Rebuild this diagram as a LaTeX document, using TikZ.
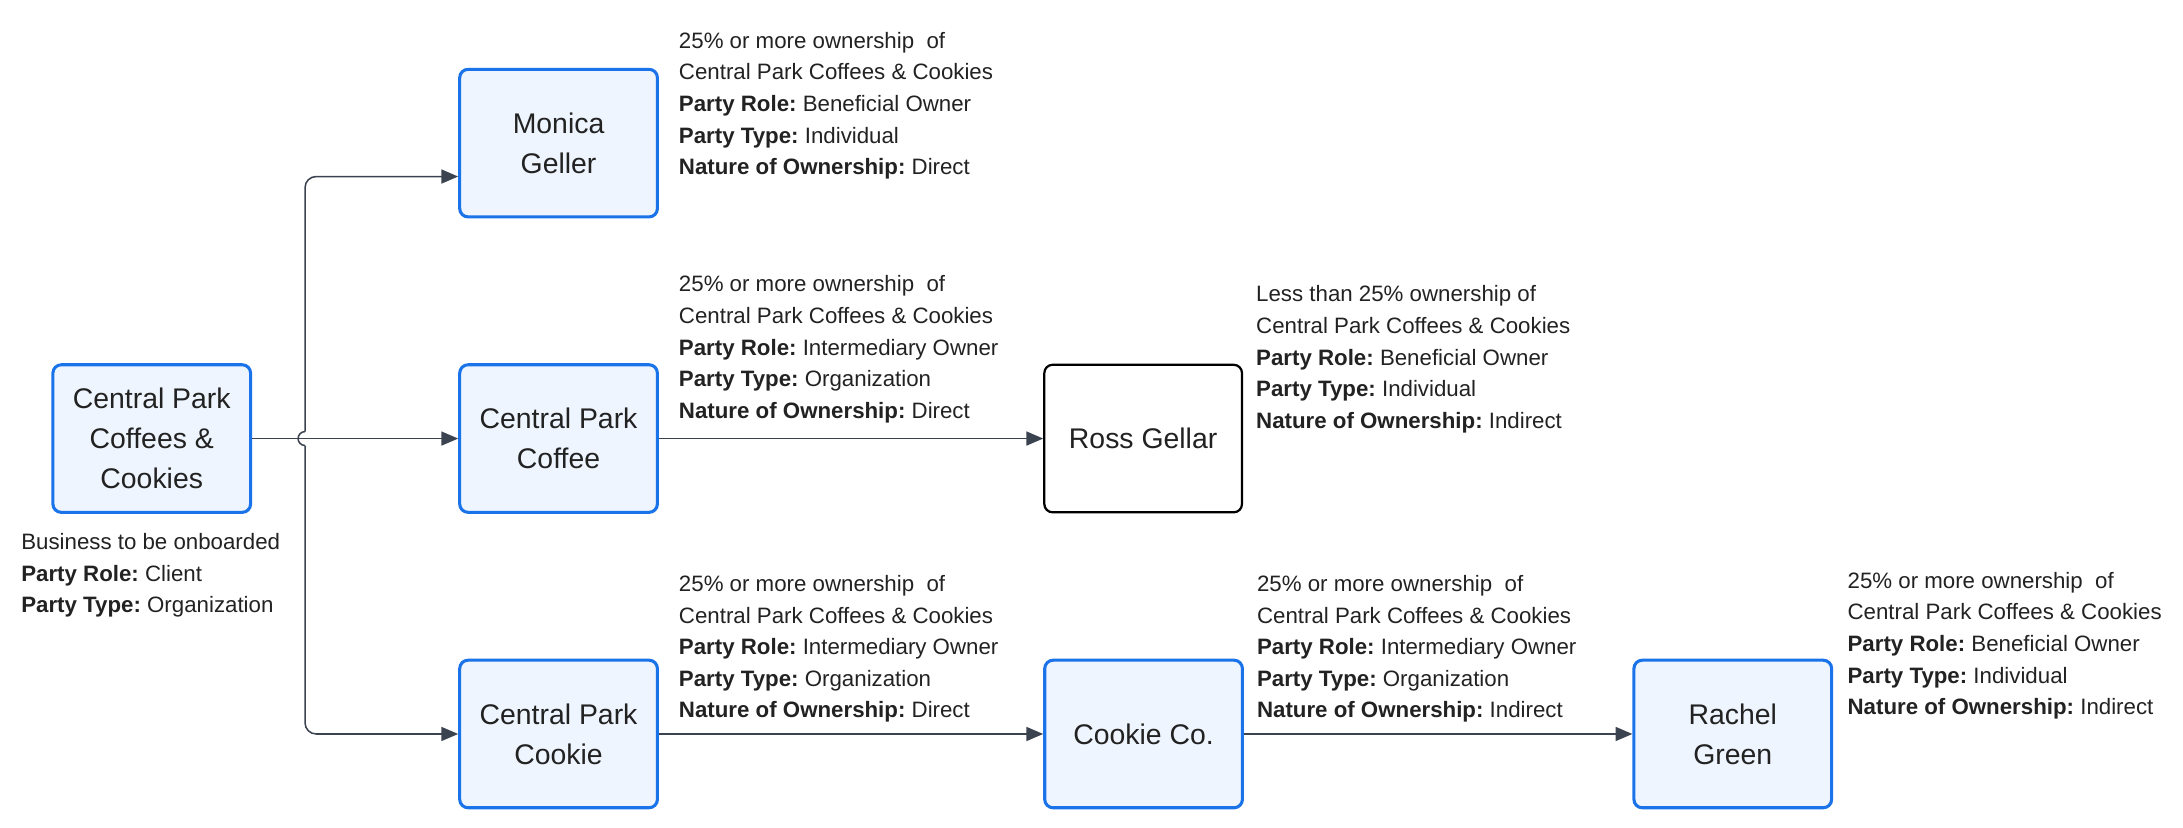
\documentclass[tikz,border=0pt]{standalone}
\usepackage{fontspec}
\setmainfont{Liberation Sans}
\frenchspacing
\usetikzlibrary{arrows.meta}
\usetikzlibrary{positioning}
\definecolor{partyblue}{HTML}{1A73E8}
\definecolor{partyfill}{HTML}{EEF5FE}
\definecolor{linkgray}{HTML}{3C4350}
\definecolor{inkdark}{HTML}{222222}

\begin{document}
\begin{tikzpicture}
    [party/.style={rectangle,rounded corners=3pt,draw=partyblue,fill=partyfill,line width=1.1pt,
      minimum width=71pt,minimum height=53pt,inner sep=2pt,align=center,
      text=inkdark,font=\fontsize{10.2pt}{14.3pt}\selectfont},
    outside/.style={party,draw=black,fill=white,line width=0.8pt},
    note/.style={anchor=north west,inner sep=0pt,align=left,text=inkdark,
      font=\fontsize{8pt}{11.35pt}\selectfont},
    link/.style={draw=linkgray,line width=0.55pt,-{Triangle[length=6pt,width=5pt]}},
    node distance=52pt and 74pt]

    \useasboundingbox (-54.5pt,-139.85pt) rectangle (729.5pt,157.5pt);

    \node[party]   (cpcc)     at (0,0)                    {Central Park\\Coffees \&\\Cookies};

    \node[party]   (coffee)   [right=of cpcc]             {Central Park\\Coffee};

    \node[party]   (monica)   [above=of coffee]           {Monica\\Geller};

    \node[party]   (cookie)   [below=of coffee]           {Central Park\\Cookie};

    \node[outside] (ross)     [right=138pt of coffee]     {Ross Gellar};

    \node[party]   (cookieco) [right=138pt of cookie]     {Cookie Co.};

    \node[party]   (rachel)   [right=139.5pt of cookieco] {Rachel\\Green};

    % ownership notes
    \node[note] (cpcc info)     at ([xshift=-11pt,yshift=-6.9pt]cpcc.south west)
      {Business to be onboarded\\\textbf{Party Role:} Client\\\textbf{Party Type:} Organization};

    \node[note] (monica info)   at ([xshift=7pt,yshift=13pt]monica.north east)
      {25\% or more ownership\ \ of\\Central Park Coffees \& Cookies\\\textbf{Party Role:} Beneficial Owner\\
       \textbf{Party Type:} Individual\\\textbf{Nature of Ownership:} Direct};

    \node[note] (coffee info)   at ([xshift=7pt,yshift=31.6pt]coffee.north east)
      {25\% or more ownership\ \ of\\Central Park Coffees \& Cookies\\\textbf{Party Role:} Intermediary Owner\\
       \textbf{Party Type:} Organization\\\textbf{Nature of Ownership:} Direct};

    \node[note] (ross info)     at ([xshift=4.5pt,yshift=28.2pt]ross.north east)
      {Less than 25\% ownership of\\Central Park Coffees \& Cookies\\\textbf{Party Role:} Beneficial Owner\\
       \textbf{Party Type:} Individual\\\textbf{Nature of Ownership:} Indirect};

    \node[note] (cookie info)   at ([xshift=7pt,yshift=30.1pt]cookie.north east)
      {25\% or more ownership\ \ of\\Central Park Coffees \& Cookies\\\textbf{Party Role:} Intermediary Owner\\
       \textbf{Party Type:} Organization\\\textbf{Nature of Ownership:} Direct};

    \node[note] (cookieco info) at ([xshift=4.5pt,yshift=30.1pt]cookieco.north east)
      {25\% or more ownership\ \ of\\Central Park Coffees \& Cookies\\\textbf{Party Role:} Intermediary Owner\\
       \textbf{Party Type:} Organization\\\textbf{Nature of Ownership:} Indirect};

    \node[note] (rachel info)   at ([xshift=5pt,yshift=31.3pt]rachel.north east)
      {25\% or more ownership\ \ of\\Central Park Coffees \& Cookies\\\textbf{Party Role:} Beneficial Owner\\
       \textbf{Party Type:} Individual\\\textbf{Nature of Ownership:} Indirect};

    % connectors
    \coordinate (split) at ([xshift=19pt]cpcc.east);

    \draw[link] (cpcc) -- (coffee);
    \draw[link,rounded corners=4pt] ([yshift=2.5pt]split) |- ([yshift=-12pt]monica.west);
    \draw[link,rounded corners=4pt] ([yshift=-2.5pt]split) |- (cookie.west);
    \draw[draw=linkgray,line width=0.55pt] ([yshift=2.5pt]split)
      arc[start angle=90,end angle=270,radius=2.5pt];

    \draw[link] (coffee) -- (ross);
    \draw[link] (cookie) -- (cookieco);
    \draw[link] (cookieco) -- (rachel);

\end{tikzpicture}
\end{document}
